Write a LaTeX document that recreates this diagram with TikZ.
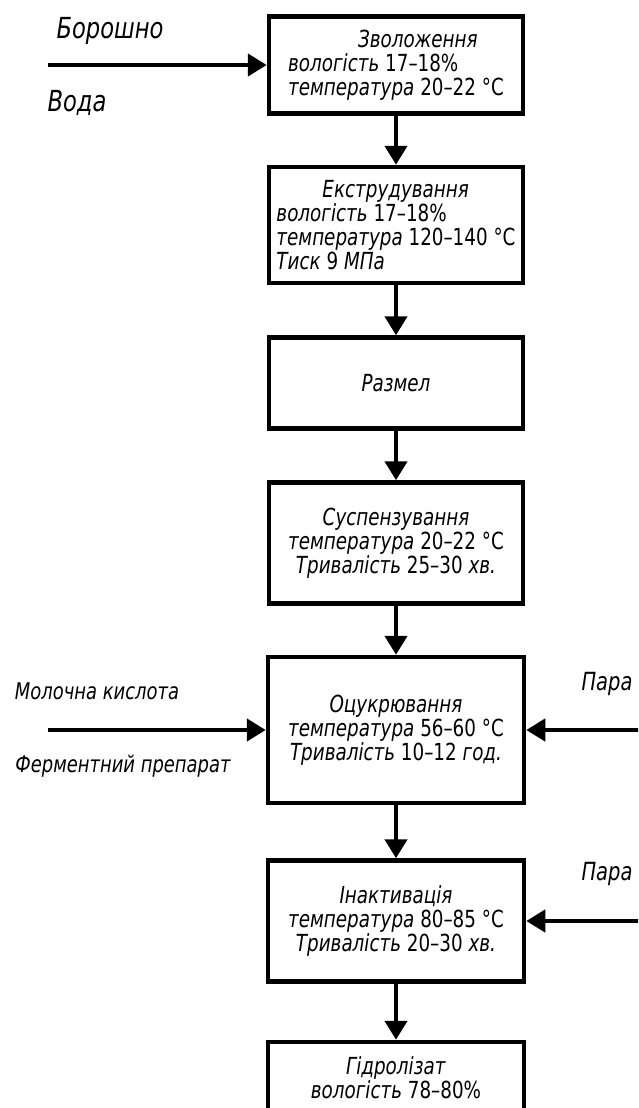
\documentclass[tikz,border=0pt]{standalone}
\usepackage{fontspec}
\setmainfont{DejaVu Sans}[FakeStretch=0.78]
\usetikzlibrary{arrows.meta}

\begin{document}
\begin{tikzpicture}[x=1pt, y=-1pt, line width=4.5pt,
  every node/.style={font=\fontsize{23.5}{24}\selectfont},
  stage/.style={draw, minimum width=254pt, inner sep=0pt, align=center},
  flow/.style={-{Triangle[length=19pt,width=22pt]}},
  lbl/.style={font=\fontsize{29}{30}\selectfont\itshape},
  sml/.style={font=\fontsize{23}{24}\selectfont\itshape}]
  \useasboundingbox (0,0) rectangle (638,1108);
  \clip (0,0) rectangle (638,1108);
  % stages
  \node[stage, minimum height=97pt, align=left] (zvol) at (396,65)
    {\hspace*{70pt}\textit{Зволоження}\\ \textit{вологість} 17–18\%\\ \textit{температура} 20–22 °C};
  \node[stage, minimum height=116pt, align=left] (ekstr) at (396,225)
    {\hspace*{46pt}\textit{Екструдування}\\ \textit{вологість} 17–18\%\\ \textit{температура} 120–140 °C\\ \textit{Тиск} 9 \textit{МПа}};
  \node[stage, minimum height=91pt] (razm) at (396,383) {\textit{Размел}};
  \node[stage, minimum height=121pt] (susp) at (396,543)
    {\textit{Суспензування}\\ \textit{температура} 20–22 °C\\ \textit{Тривалість} 25–30 \textit{хв.}};
  \node[stage, minimum height=146pt, minimum width=256pt] (ocukr) at (396,730)
    {\textit{Оцукрювання}\\ \textit{температура} 56–60 °C\\ \textit{Тривалість} 10–12 \textit{год.}};
  \node[stage, minimum height=121pt, minimum width=256pt] (inakt) at (396,921)
    {\textit{Інактивація}\\ \textit{температура} 80–85 °C\\ \textit{Тривалість} 20–30 \textit{хв.}};
  \node[stage, minimum height=72pt, minimum width=256pt] (gidr) at (396,1078)
    {\textit{Гідролізат}\\ \textit{вологість} 78–80\%};
  % main line
  \foreach \a/\b in {zvol/ekstr, ekstr/razm, razm/susp, susp/ocukr, ocukr/inakt, inakt/gidr}
    \draw[flow] (\a.south) -- (\b.north);
  % inputs
  \coordinate (in1) at (48,65);
  \coordinate (in5) at (48,730);
  \coordinate (par5) at (640,730);
  \coordinate (par6) at (640,921);
  \draw[flow] (in1) -- (zvol.west);
  \draw[flow] (in5) -- (ocukr.west);
  \draw[flow] (par5) -- (ocukr.east);
  \draw[flow] (par6) -- (inakt.east);
  \node[lbl] (boro) at (110,31) {Борошно};
  \node[lbl] (voda) at (77,103) {Вода};
  \node[sml] (kysl) at (97,691) {Молочна кислота};
  \node[sml] (ferm) at (123,766) {Ферментний препарат};
  \node[lbl, font=\fontsize{25}{26}\selectfont\itshape] (para1) at (607,684) {Пара};
  \node[lbl, font=\fontsize{25}{26}\selectfont\itshape] (para2) at (607,874) {Пара};
\end{tikzpicture}
\end{document}
